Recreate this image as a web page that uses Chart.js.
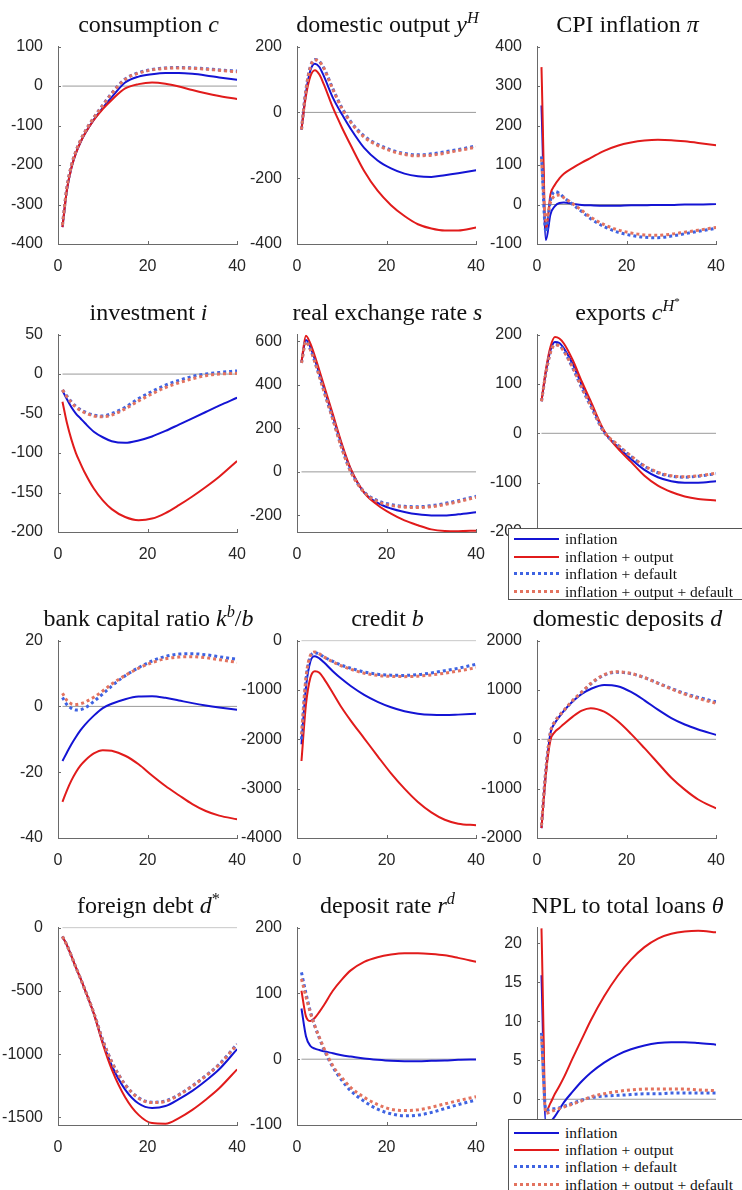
<!DOCTYPE html>
<html>
<head>
<meta charset="utf-8">
<script src="https://cdn.jsdelivr.net/npm/chart.js@4.4.1/dist/chart.umd.min.js"></script>
<style>
  body { margin: 0; background: #fff; }
  #page { position: relative; width: 742px; height: 1190px; overflow: hidden; background: #fff; }
  .panel { position: absolute; }
  .title { position: absolute; width: 300px; text-align: center; white-space: nowrap;
           font-family: "Liberation Serif", serif; font-size: 24px; color: #111; line-height: 30px; }
  .title sup { font-size: 0.68em; line-height: 0; }
  .legend { position: absolute; width: 240px; height: 70px; background: #fff; border: 1px solid #555;
            font-family: "Liberation Serif", serif; font-size: 15.5px; color: #111; }
  .legend .row { position: absolute; left: 0; width: 240px; height: 18px; }
  .legend .swatch { position: absolute; left: 5px; top: 8px; width: 45px; height: 2px; }
  .legend .label { position: absolute; left: 56px; top: 0; line-height: 18px; white-space: nowrap; }
</style>
</head>
<body>
<div id="page"></div>
<script>
// periods (x axis 1..40)
const periods = [1, 2, 3, 4, 5, 6, 8, 10, 12, 15, 18, 21, 24, 27, 30, 33, 36, 40];
const xTicks = [0, 20, 40];

// consumption c
const cons_inf = [-357, -262, -207, -170, -143, -121, -85, -55, -28, 9, 24, 30, 33, 33, 31, 27, 22, 16];
const cons_out = [-357, -262, -207, -170, -143, -121, -86, -58, -35, -6, 5, 9, 6, -1, -10, -18, -25, -33];
const cons_def = [-352, -256, -201, -165, -138, -116, -80, -48, -18, 18, 34, 42, 46, 47, 46, 44, 41, 38];
const cons_all = [-352, -256, -201, -165, -138, -116, -80, -49, -19, 17, 33, 41, 45, 46, 45, 43, 40, 36];

// domestic output yH
const out_inf = [-52, 60, 128, 148, 138, 110, 45, -5, -50, -108, -146, -170, -186, -194, -196, -191, -185, -176];
const out_out = [-52, 50, 110, 128, 115, 85, 15, -45, -100, -178, -238, -282, -315, -340, -353, -359, -359, -350];
const out_def = [-52, 70, 140, 161, 155, 135, 72, 15, -28, -72, -97, -114, -125, -129, -126, -120, -113, -102];
const out_all = [-52, 68, 138, 160, 154, 134, 70, 13, -30, -75, -100, -117, -128, -132, -130, -124, -116, -106];

// CPI inflation
const cpi_inf = [251, -90, -25, -4, 4, 5, 2, -1, -2, -3, -3, -2, -2, -1, -1, 0, 0, 1];
const cpi_out = [348, -65, 25, 50, 66, 78, 93, 106, 118, 136, 149, 157, 162, 164, 163, 160, 156, 150];
const cpi_def = [122, -70, 10, 33, 28, 18, 0, -18, -36, -56, -70, -78, -83, -84, -80, -74, -68, -60];
const cpi_all = [115, -40, 5, 22, 24, 17, 2, -15, -32, -51, -64, -72, -77, -78, -75, -70, -65, -58];

// investment i
const inv_inf = [-21, -32, -42, -50, -56, -62, -73, -80, -85, -87, -84, -79, -72, -64, -56, -48, -40, -30];
const inv_out = [-35, -62, -83, -100, -113, -125, -145, -160, -171, -181, -185, -183, -176, -166, -155, -143, -130, -110];
const inv_def = [-20, -28, -35, -41, -45, -48, -52, -53, -50, -42, -31, -22, -14, -8, -3, 0, 2, 4];
const inv_all = [-20, -29, -36, -42, -46, -49, -53, -54, -52, -44, -34, -25, -17, -11, -6, -2, 0, 1];

// real exchange rate s
const rer_inf = [505, 605, 572, 515, 450, 385, 255, 122, 10, -95, -142, -168, -184, -195, -200, -200, -195, -185];
const rer_out = [505, 625, 588, 530, 465, 398, 265, 130, 15, -95, -152, -192, -223, -245, -264, -271, -272, -270];
const rer_def = [500, 600, 562, 505, 440, 373, 243, 110, 2, -92, -132, -150, -158, -160, -155, -145, -132, -112];
const rer_all = [500, 598, 560, 503, 438, 371, 241, 108, 0, -94, -136, -154, -162, -164, -160, -150, -137, -117];

// exports cH*
const exp_inf = [65, 125, 168, 185, 183, 172, 140, 98, 60, 3, -27, -52, -74, -89, -97, -100, -100, -97];
const exp_out = [65, 130, 175, 195, 192, 182, 148, 105, 65, 5, -30, -58, -86, -106, -119, -128, -133, -136];
const exp_def = [65, 123, 165, 180, 178, 167, 132, 92, 55, 2, -24, -47, -67, -80, -87, -89, -87, -82];
const exp_all = [65, 122, 163, 179, 177, 166, 133, 93, 56, 3, -23, -46, -66, -79, -86, -88, -86, -81];

// bank capital ratio kb/b
const kb_inf = [-16.6, -14, -11.5, -9.3, -7.3, -5.6, -2.8, -0.5, 0.8, 2.2, 3.0, 3.1, 2.6, 1.8, 1.0, 0.3, -0.3, -1.0];
const kb_out = [-29, -25.5, -22.5, -20, -18, -16.5, -14.3, -13.3, -13.5, -15, -17.6, -21, -24.2, -27, -29.7, -31.8, -33.2, -34.3];
const kb_def = [2.7, 0.5, -0.6, -1.1, -1.0, -0.5, 1.5, 3.8, 6.2, 9.3, 11.8, 13.8, 15.2, 15.9, 16.0, 15.7, 15.1, 14.3];
const kb_all = [4, 1.8, 0.8, 0.6, 0.8, 1.3, 2.8, 4.7, 6.8, 9.4, 11.6, 13.3, 14.5, 15.0, 15.1, 14.8, 14.2, 13.4];

// credit b
const cr_inf = [-2100, -950, -420, -315, -360, -440, -620, -780, -920, -1100, -1240, -1350, -1430, -1480, -1505, -1510, -1500, -1480];
const cr_out = [-2440, -1300, -750, -620, -650, -770, -1060, -1360, -1620, -1980, -2340, -2690, -3000, -3270, -3480, -3630, -3710, -3740];
const cr_def = [-2000, -800, -330, -245, -275, -330, -420, -500, -560, -635, -680, -700, -705, -690, -655, -610, -560, -480];
const cr_all = [-1900, -750, -300, -230, -270, -330, -430, -515, -580, -660, -705, -725, -730, -720, -695, -660, -615, -550];

// domestic deposits d
const dep_inf = [-1800, -650, 120, 330, 460, 575, 770, 920, 1020, 1100, 1075, 960, 790, 600, 430, 300, 200, 90];
const dep_out = [-1800, -700, -20, 150, 230, 310, 460, 580, 630, 560, 370, 110, -180, -480, -780, -1020, -1220, -1400];
const dep_def = [-1750, -600, 140, 360, 480, 580, 780, 950, 1120, 1300, 1360, 1330, 1250, 1140, 1030, 930, 850, 760];
const dep_all = [-1750, -600, 140, 360, 480, 585, 790, 960, 1130, 1310, 1370, 1335, 1250, 1135, 1020, 915, 830, 730];

// foreign debt d*
const fd_inf = [-70, -140, -225, -315, -400, -490, -680, -905, -1090, -1280, -1390, -1425, -1410, -1355, -1290, -1210, -1120, -960];
const fd_out = [-70, -140, -225, -315, -400, -490, -680, -920, -1120, -1340, -1480, -1545, -1550, -1505, -1440, -1360, -1270, -1120];
const fd_def = [-70, -140, -225, -315, -400, -490, -675, -890, -1060, -1240, -1345, -1380, -1370, -1320, -1250, -1170, -1080, -920];
const fd_all = [-70, -140, -225, -315, -400, -490, -675, -890, -1062, -1243, -1348, -1383, -1373, -1323, -1253, -1173, -1083, -925];

// deposit rate rd
const rd_inf = [77, 35, 20, 16, 14, 12, 9, 6, 4, 1, -1, -2.5, -3, -3, -2.5, -2, -1, -0.5];
const rd_out = [104, 65, 58, 63, 72, 82, 104, 121, 135, 148, 155, 159, 161, 161, 160, 158, 154, 148];
const rd_def = [132, 100, 72, 50, 32, 15, -12, -32, -48, -64, -76, -83, -86, -85, -81, -75, -69, -62];
const rd_all = [122, 95, 70, 50, 33, 17, -10, -28, -43, -58, -69, -76, -78, -77, -73, -68, -63, -57];

// NPL to total loans theta
const npl_inf = [15.9, -3.2, -2.9, -2.2, -1.3, -0.4, 1.0, 2.3, 3.4, 4.7, 5.7, 6.4, 6.9, 7.2, 7.3, 7.3, 7.2, 7.0];
const npl_out = [21.9, -1.5, -0.5, 0.7, 1.7, 2.8, 5.3, 7.7, 10.1, 13.2, 15.8, 17.9, 19.5, 20.6, 21.2, 21.5, 21.6, 21.4];
const npl_def = [8.5, -1.4, -1.3, -1.2, -1.1, -0.9, -0.5, -0.1, 0.2, 0.4, 0.5, 0.6, 0.7, 0.7, 0.8, 0.8, 0.8, 0.8];
const npl_all = [8.1, -1.8, -1.6, -1.4, -1.2, -1.0, -0.6, -0.2, 0.3, 0.7, 1.0, 1.2, 1.3, 1.3, 1.3, 1.3, 1.2, 1.1];

// y axis limits and ticks per panel
const yMins = [-400, -400, -100, -200, -276, -200, -40, -4000, -2000, -1560, -100, -3.3];
const yMaxs = [100, 200, 400, 50, 630, 200, 20, 0, 2000, 0, 200, 22];
const yTicks = [
  [-400, -300, -200, -100, 0, 100],
  [-400, -200, 0, 200],
  [-100, 0, 100, 200, 300, 400],
  [-200, -150, -100, -50, 0, 50],
  [-200, 0, 200, 400, 600],
  [-200, -100, 0, 100, 200],
  [-40, -20, 0, 20],
  [-4000, -3000, -2000, -1000, 0],
  [-2000, -1000, 0, 1000, 2000],
  [-1500, -1000, -500, 0],
  [-100, 0, 100, 200],
  [0, 5, 10, 15, 20]
];

const titles = [
  'consumption <i>c</i>',
  'domestic output <i>y</i><sup><i>H</i></sup>',
  'CPI inflation <i>π</i>',
  'investment <i>i</i>',
  'real exchange rate <i>s</i>',
  'exports <i>c</i><sup><i>H</i><sup>*</sup></sup>',
  'bank capital ratio <i>k</i><sup><i>b</i></sup>/<i>b</i>',
  'credit <i>b</i>',
  'domestic deposits <i>d</i>',
  'foreign debt <i>d</i><sup>*</sup>',
  'deposit rate <i>r</i><sup><i>d</i></sup>',
  'NPL to total loans <i>θ</i>'
];

const seriesInf = [cons_inf, out_inf, cpi_inf, inv_inf, rer_inf, exp_inf, kb_inf, cr_inf, dep_inf, fd_inf, rd_inf, npl_inf];
const seriesOut = [cons_out, out_out, cpi_out, inv_out, rer_out, exp_out, kb_out, cr_out, dep_out, fd_out, rd_out, npl_out];
const seriesDef = [cons_def, out_def, cpi_def, inv_def, rer_def, exp_def, kb_def, cr_def, dep_def, fd_def, rd_def, npl_def];
const seriesAll = [cons_all, out_all, cpi_all, inv_all, rer_all, exp_all, kb_all, cr_all, dep_all, fd_all, rd_all, npl_all];

const legendLabels = ['inflation', 'inflation + output', 'inflation + default', 'inflation + output + default'];

// styling
const BLUE = '#1414d4';
const RED = '#e11b1b';
const DOT_BLUE = '#3e63e2';
const DOT_RED = '#e3735f';
const AXIS = '#6a6a6a';
const ZERO = '#9a9a9a';
const TICK_TEXT = '#262626';

const colLeft = [58, 297, 537];
const rowTop = [42, 330, 636, 923];
const plotW = 181, plotH = 202;
const padL = 64, padT = 12, padR = 12, padB = 30;

const page = document.getElementById('page');

// MATLAB style ticks pointing into the plot
const inwardTicks = {
  id: 'inwardTicks',
  afterDraw(chart) {
    const { ctx, chartArea: a, scales: { x, y } } = chart;
    ctx.save();
    ctx.strokeStyle = AXIS;
    ctx.lineWidth = 1;
    ctx.beginPath();
    y.ticks.forEach(t => {
      const py = Math.round(y.getPixelForValue(t.value)) + 0.5;
      ctx.moveTo(a.left, py);
      ctx.lineTo(a.left + 3, py);
    });
    x.ticks.forEach(t => {
      const px = Math.round(x.getPixelForValue(t.value)) + 0.5;
      ctx.moveTo(px, a.bottom);
      ctx.lineTo(px, a.bottom - 3);
    });
    ctx.stroke();
    ctx.restore();
  }
};

function toXY(values) {
  return values.map((v, i) => ({ x: periods[i], y: v }));
}

function makePanel(i) {
  const col = i % 3, row = Math.floor(i / 3);
  const left = colLeft[col], top = rowTop[row];

  const canvas = document.createElement('canvas');
  canvas.className = 'panel';
  canvas.width = plotW + padL + padR;
  canvas.height = plotH + padT + padB;
  canvas.style.left = (left - padL) + 'px';
  canvas.style.top = (top - padT) + 'px';
  page.appendChild(canvas);

  const title = document.createElement('div');
  title.className = 'title';
  title.style.left = (left + plotW / 2 - 150) + 'px';
  title.style.top = (top - 33) + 'px';
  title.innerHTML = titles[i];
  page.appendChild(title);

  const tickFont = { family: 'Liberation Sans, Arial, sans-serif', size: 16 };
  const ticksY = yTicks[i];

  new Chart(canvas.getContext('2d'), {
    type: 'line',
    data: {
      datasets: [
        { data: [{ x: 1, y: 0 }, { x: 40, y: 0 }], borderColor: ZERO, borderWidth: 1, order: 5 },
        { label: legendLabels[0], data: toXY(seriesInf[i]), borderColor: BLUE, borderWidth: 2, order: 4 },
        { label: legendLabels[1], data: toXY(seriesOut[i]), borderColor: RED, borderWidth: 2, order: 3 },
        { label: legendLabels[2], data: toXY(seriesDef[i]), borderColor: DOT_BLUE, borderWidth: 3, borderDash: [3, 3], order: 2 },
        { label: legendLabels[3], data: toXY(seriesAll[i]), borderColor: DOT_RED, borderWidth: 3, borderDash: [3, 3], order: 1 }
      ]
    },
    options: {
      responsive: false,
      animation: false,
      devicePixelRatio: 1,
      layout: { padding: { top: padT, right: padR, left: 0, bottom: 0 } },
      plugins: { legend: { display: false }, tooltip: { enabled: false } },
      elements: {
        point: { radius: 0 },
        line: { cubicInterpolationMode: 'monotone', borderCapStyle: 'butt', fill: false }
      },
      scales: {
        x: {
          type: 'linear', min: 0, max: 40,
          afterBuildTicks: s => { s.ticks = xTicks.map(v => ({ value: v })); },
          afterFit: s => { s.height = padB; },
          grid: { display: false },
          border: { display: true, color: AXIS, width: 1 },
          ticks: { padding: 5, font: tickFont, color: TICK_TEXT, maxRotation: 0, autoSkip: false }
        },
        y: {
          type: 'linear', min: yMins[i], max: yMaxs[i],
          afterBuildTicks: s => { s.ticks = ticksY.map(v => ({ value: v })); },
          afterFit: s => { s.width = padL; },
          grid: { display: false },
          border: { display: true, color: AXIS, width: 1 },
          ticks: { padding: 7, font: tickFont, color: TICK_TEXT, autoSkip: false, callback: v => String(v) }
        }
      }
    },
    plugins: [inwardTicks]
  });
}

for (let i = 0; i < 12; i++) makePanel(i);

// legends drawn as boxes over the plots, like the original
const swatchStyles = [
  'background:' + BLUE + ';height:2px;',
  'background:' + RED + ';height:2px;',
  'background:repeating-linear-gradient(90deg,' + DOT_BLUE + ' 0 3px, transparent 3px 6px);height:3px;top:7px;',
  'background:repeating-linear-gradient(90deg,' + DOT_RED + ' 0 3px, transparent 3px 6px);height:3px;top:7px;'
];

function makeLegend(left, top, rowCentres) {
  const box = document.createElement('div');
  box.className = 'legend';
  box.style.left = left + 'px';
  box.style.top = top + 'px';
  legendLabels.forEach((lab, k) => {
    const r = document.createElement('div');
    r.className = 'row';
    r.style.top = (rowCentres[k] - 9) + 'px';
    r.innerHTML = '<div class="swatch" style="' + swatchStyles[k] + '"></div><div class="label">' + lab + '</div>';
    box.appendChild(r);
  });
  page.appendChild(box);
}

makeLegend(508, 528, [10, 28, 45, 63]);
makeLegend(508, 1119, [13, 29.5, 47, 65]);
</script>
</body>
</html>
